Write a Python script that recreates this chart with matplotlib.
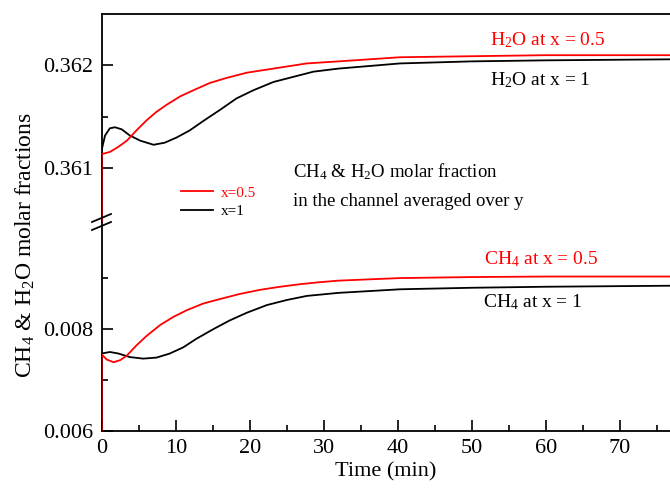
import matplotlib
matplotlib.use("Agg")
import matplotlib.pyplot as plt
from matplotlib.lines import Line2D
from matplotlib.ticker import FormatStrFormatter, MultipleLocator, FixedLocator

plt.rcParams['font.family'] = ['Liberation Serif', 'DejaVu Serif']
plt.rcParams['mathtext.fontset'] = 'custom'
plt.rcParams['mathtext.rm'] = 'Liberation Serif'
plt.rcParams['mathtext.it'] = 'Liberation Serif:italic'

# time (min) and channel-averaged molar fractions; each run starts from 0 at t = 0
t_h2o_x05 = [0, 0, 1.1, 2.25, 3.4, 4.7, 6.1, 7.4, 8.8, 10.6, 12.4, 14.6, 16.9,
             19.6, 22.3, 25.0, 27.7, 32.0, 40.3, 50, 60, 77]
h2o_x05 = [0, 0.36114, 0.36116, 0.36121, 0.36127, 0.36137, 0.36147, 0.36155,
           0.36162, 0.36170, 0.36176, 0.36183, 0.36188, 0.36193, 0.36196,
           0.36199, 0.36202, 0.36204, 0.36208, 0.36209, 0.3621, 0.3621]

t_h2o_x1 = [0, 0, 0.45, 1.1, 1.8, 2.7, 3.8, 5.2, 7.0, 8.5, 10.1, 11.9, 13.7,
            16.0, 18.2, 20.5, 23.2, 25.9, 28.6, 32.0, 40.3, 50, 60, 77]
h2o_x1 = [0, 0.36118, 0.36132, 0.36139, 0.36140, 0.36138, 0.36132, 0.36127,
          0.36123, 0.36125, 0.36130, 0.36137, 0.36146, 0.36157, 0.36168,
          0.36176, 0.36184, 0.36189, 0.36194, 0.36197, 0.36202, 0.36204,
          0.36205, 0.36206]

t_ch4_x05 = [0, 0, 0.7, 1.6, 2.5, 3.4, 4.7, 6.1, 7.9, 9.7, 11.5, 13.7, 16.0,
             18.7, 21.4, 24.1, 26.8, 29.5, 32.0, 40.3, 50, 60, 77]
ch4_x05 = [0, 0.00750, 0.00740, 0.00735, 0.00739, 0.00748, 0.00768, 0.00787,
           0.00808, 0.00824, 0.00837, 0.00850, 0.00859, 0.00869, 0.00877,
           0.00883, 0.00888, 0.00892, 0.00895, 0.00900, 0.00902, 0.00903,
           0.00903]

t_ch4_x1 = [0, 0, 1.1, 2.25, 3.8, 5.6, 7.4, 9.2, 11.0, 12.8, 15.1, 17.3, 19.6,
            22.3, 25.0, 27.7, 32.0, 40.3, 50, 60, 77]
ch4_x1 = [0, 0.00752, 0.00755, 0.00752, 0.00745, 0.00742, 0.00744, 0.00752,
          0.00764, 0.00781, 0.00800, 0.00817, 0.00832, 0.00847, 0.00857,
          0.00865, 0.00871, 0.00878, 0.00881, 0.00883, 0.00885]

W, H = 670, 488
fig = plt.figure(figsize=(W / 100, H / 100), dpi=100)


def fx(x):
    return x / W


def fy(y):
    return 1 - y / H


left = fx(101.7)
brk = fy(222)
ax_lo = fig.add_axes([left, fy(431), 1 - left, brk - fy(431)])
ax_hi = fig.add_axes([left, brk, 1 - left, fy(14) - brk])

RED = '#ff0000'
panels = [
    (ax_hi, (t_h2o_x1, h2o_x1), (t_h2o_x05, h2o_x05)),
    (ax_lo, (t_ch4_x1, ch4_x1), (t_ch4_x05, ch4_x05)),
]
for ax, blk, red in panels:
    ax.plot(*blk, color='black', lw=1.3, zorder=3)
    ax.plot(*red, color=RED, lw=1.3, zorder=4)
    ax.set_xlim(0, 76.75)
    ax.spines['right'].set_visible(False)
    for s in ax.spines.values():
        s.set_linewidth(1.3)
    ax.tick_params(which='both', direction='in', labelsize=16, width=1.2)
    ax.tick_params(which='major', length=8, pad=6)
    ax.tick_params(which='minor', length=4)
    ax.tick_params(axis='y', which='both', right=False)
    ax.yaxis.set_major_formatter(FormatStrFormatter('%.3f'))

ax_hi.set_ylim(0.36048, 0.3625)
ax_hi.yaxis.set_major_locator(FixedLocator([0.361, 0.362]))
ax_hi.yaxis.set_minor_locator(FixedLocator([0.3615]))
ax_hi.spines['bottom'].set_visible(False)
ax_hi.tick_params(axis='x', which='both', bottom=False, top=False, labelbottom=False)

ax_lo.set_ylim(0.006, 0.0101)
ax_lo.yaxis.set_major_locator(FixedLocator([0.006, 0.008]))
ax_lo.yaxis.set_minor_locator(FixedLocator([0.007, 0.009]))
ax_lo.spines['top'].set_visible(False)
ax_lo.xaxis.set_major_locator(MultipleLocator(10))
ax_lo.xaxis.set_minor_locator(MultipleLocator(5))
ax_lo.tick_params(axis='x', which='both', top=False)
ax_lo.set_xlabel('Time (min)', fontsize=16, labelpad=3)

# axis break marks on the left spine
for dy in (-4, 4):
    fig.add_artist(Line2D([fx(92), fx(111)], [fy(226 + dy), fy(218 + dy)],
                          color='black', lw=1.3, transform=fig.transFigure))

fig.text(fx(25), fy(245), 'CH$_4$ & H$_2$O molar fractions', rotation=90,
         ha='center', va='center', fontsize=17)

# curve labels
fig.text(fx(548), fy(40), 'H$_2$O at x = 0.5', color=RED, ha='center', va='center', fontsize=14)
fig.text(fx(540), fy(80), 'H$_2$O at x = 1', color='black', ha='center', va='center', fontsize=14)
fig.text(fx(541), fy(259), 'CH$_4$ at x = 0.5', color=RED, ha='center', va='center', fontsize=14)
fig.text(fx(533), fy(302), 'CH$_4$ at x = 1', color='black', ha='center', va='center', fontsize=14)

fig.text(fx(293), fy(172), 'CH$_4$ & H$_2$O molar fraction', ha='left', va='center', fontsize=13.5)
fig.text(fx(293), fy(202), 'in the channel averaged over y', ha='left', va='center', fontsize=13.5)

handles = [Line2D([], [], color=RED, lw=1.3), Line2D([], [], color='black', lw=1.3)]
fig.legend(handles, ['x=0.5', 'x=1'], loc='upper left', bbox_to_anchor=(fx(181), fy(186)),
           frameon=False, fontsize=11, labelcolor='linecolor', handlelength=2.1,
           handletextpad=0.5, labelspacing=0.3, borderpad=0, borderaxespad=0)

fig.savefig('out.png', dpi=100)
